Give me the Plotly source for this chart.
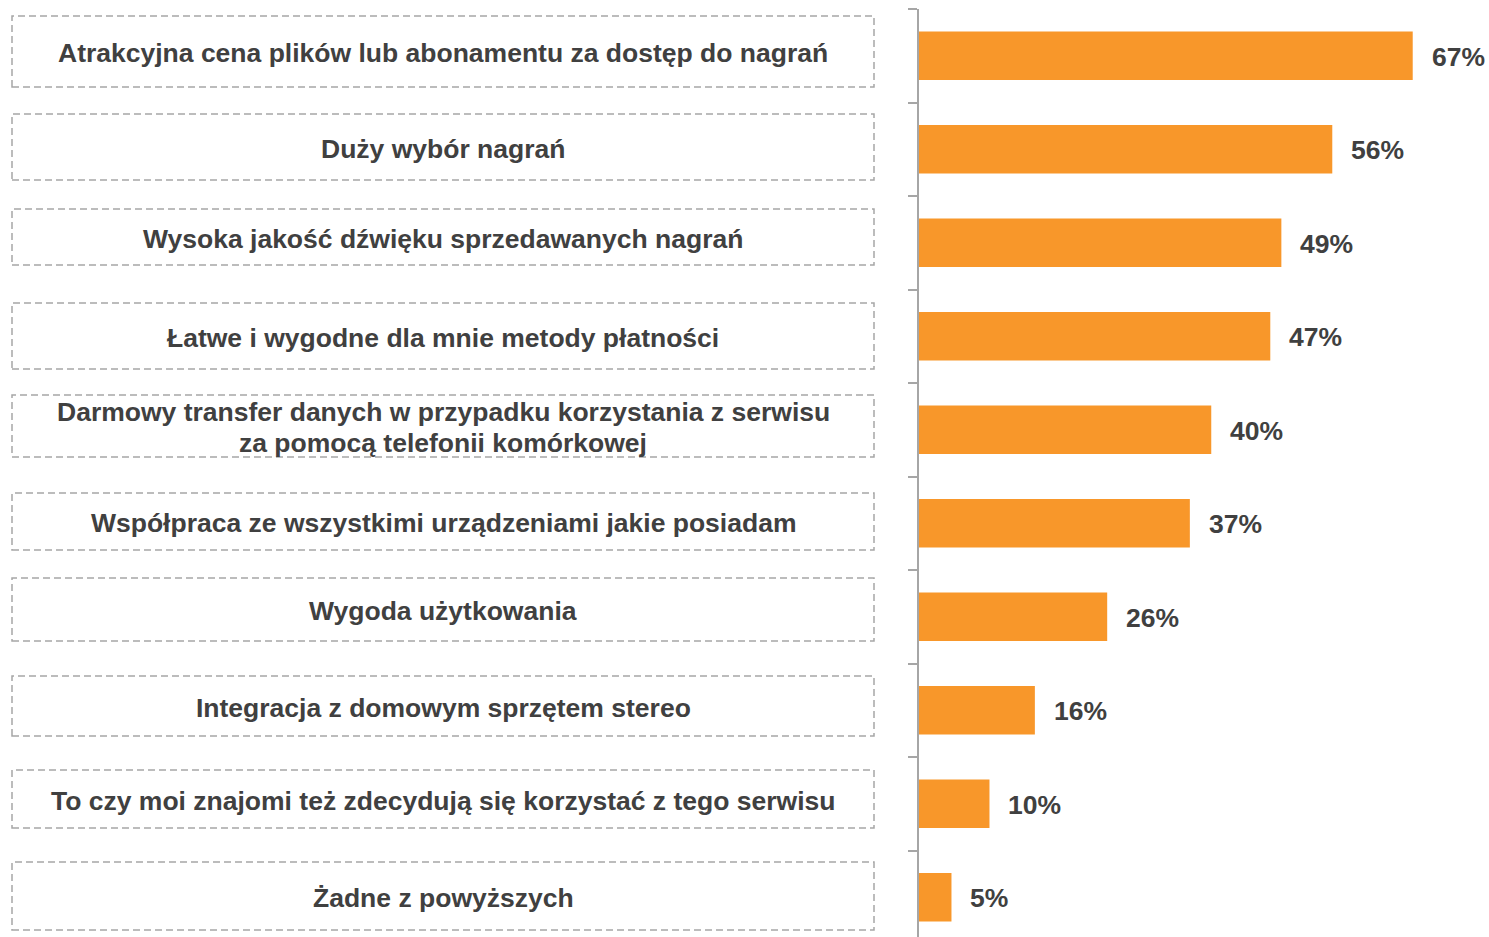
import plotly.graph_objects as go

# ---- data ----
categories = [
    "Atrakcyjna cena plików lub abonamentu za dostęp do nagrań",
    "Duży wybór nagrań",
    "Wysoka jakość dźwięku sprzedawanych nagrań",
    "Łatwe i wygodne dla mnie metody płatności",
    "Darmowy transfer danych w przypadku korzystania z serwisu<br>za pomocą telefonii komórkowej",
    "Współpraca ze wszystkimi urządzeniami jakie posiadam",
    "Wygoda użytkowania",
    "Integracja z domowym sprzętem stereo",
    "To czy moi znajomi też zdecydują się korzystać z tego serwisu",
    "Żadne z powyższych",
]
values = [66.9, 56.0, 49.1, 47.6, 39.6, 36.7, 25.5, 15.7, 9.55, 4.4]
value_labels = ["67%", "56%", "49%", "47%", "40%", "37%", "26%", "16%", "10%", "5%"]

# ---- layout constants (screen pixels) ----
W, H = 1489, 937
TOP = 9                      # screen y of top of the axis
PLOT_H = H - TOP
CAT_PX = 93.5
AXIS_X = 919
PX_PER_UNIT = 7.38
BAR_COLOR = "#F8972A"
TEXT_COLOR = "#404040"
GRAY = "#A6A6A6"
FONT = "Liberation Sans, Arial, sans-serif"
CAT_SIZE = 26.5
VAL_SIZE = 26.5
LINE_GAP = 31
BOX_X0, BOX_X1 = 12, 874
BOX_EDGES = [(16, 87), (114, 180), (209, 265), (303, 369), (395, 457),
             (493, 550), (578, 641), (676, 736), (770, 828), (862, 930)]

ids = list(range(len(categories)))

fig = go.Figure()
fig.add_trace(go.Bar(
    x=values, y=ids, orientation="h",
    marker=dict(color=BAR_COLOR, line=dict(width=0)),
    width=0.52, hoverinfo="skip",
))

# value labels
for i, (v, lab) in enumerate(zip(values, value_labels)):
    fig.add_annotation(x=v, y=i, xref="x", yref="y", text=lab, showarrow=False,
                       xanchor="left", yanchor="middle", xshift=17, yshift=-1,
                       font=dict(family=FONT, size=VAL_SIZE, color=TEXT_COLOR, weight="bold"))

def sx(px):
    return px / W

def sy(py):
    # screen y -> paper y (plot area spans screen TOP..H)
    return (H - py) / PLOT_H

# category boxes and labels
for cat, (t, b) in zip(categories, BOX_EDGES):
    fig.add_shape(type="rect", xref="paper", yref="paper",
                  x0=sx(BOX_X0), x1=sx(BOX_X1), y0=sy(b), y1=sy(t),
                  line=dict(color=GRAY, width=1.5, dash="7px,4px"),
                  fillcolor="rgba(0,0,0,0)", layer="above")
    lines = cat.split("<br>")
    cy = (t + b) / 2 + 1.5
    for k, line in enumerate(lines):
        ly = cy + (k - (len(lines) - 1) / 2) * LINE_GAP
        fig.add_annotation(x=sx((BOX_X0 + BOX_X1) / 2), y=sy(ly),
                           xref="paper", yref="paper", text=line, showarrow=False,
                           xanchor="center", yanchor="middle", align="center",
                           font=dict(family=FONT, size=CAT_SIZE, color=TEXT_COLOR, weight="bold"))

n = len(categories)
fig.update_layout(
    width=W, height=H,
    margin=dict(l=0, r=0, t=TOP, b=0, pad=0),
    paper_bgcolor="white", plot_bgcolor="white",
    showlegend=False,
    hovermode=False,
    xaxis=dict(domain=[sx(AXIS_X), 1], range=[0, (W - AXIS_X) / PX_PER_UNIT],
               showgrid=False, zeroline=False, showticklabels=False, ticks="", showline=False),
    yaxis=dict(range=[-0.5 + PLOT_H / CAT_PX, -0.5], showgrid=False, zeroline=False,
               showticklabels=False, showline=True, linecolor=GRAY, linewidth=2,
               tickmode="array", tickvals=[k - 0.5 for k in range(n + 1)],
               ticks="outside", ticklen=9, tickcolor=GRAY, tickwidth=2),
)

fig.write_html(
    "out.html",
    config={"displayModeBar": False, "staticPlot": True},
    post_script="document.body.style.margin='0';"
                "document.documentElement.style.overflow='hidden';"
                "document.body.style.overflow='hidden';",
)
